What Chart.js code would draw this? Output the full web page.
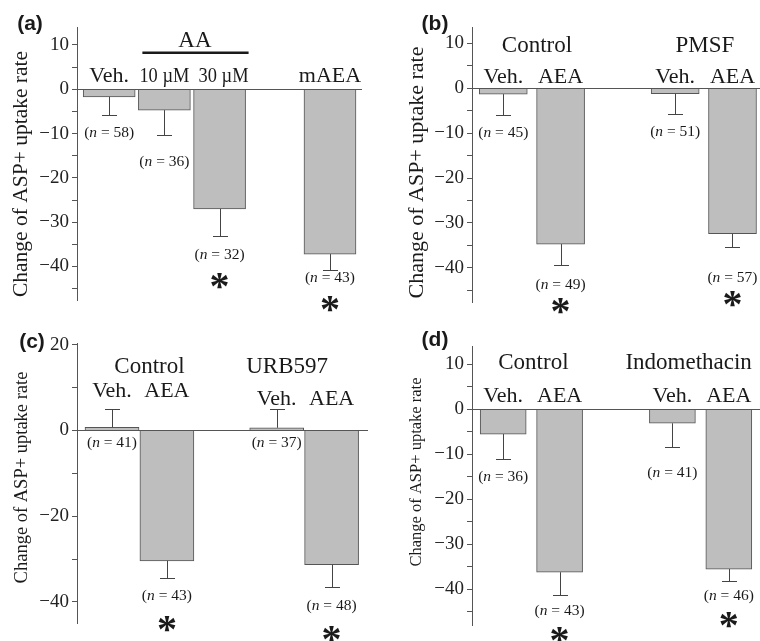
<!DOCTYPE html>
<html>
<head>
<meta charset="utf-8">
<script src="https://cdn.jsdelivr.net/npm/chart.js@4"></script>
<style>
  body { margin: 0; background: #fff; width: 760px; height: 641px; position: relative; overflow: hidden; }
  canvas { position: absolute; }
</style>
</head>
<body>
<canvas id="chartA" width="380" height="330" style="left:0;top:0"></canvas>
<canvas id="chartB" width="380" height="330" style="left:380px;top:0"></canvas>
<canvas id="chartC" width="380" height="331" style="left:0;top:310px"></canvas>
<canvas id="chartD" width="380" height="331" style="left:380px;top:310px"></canvas>
<script>
// (a) AA / mAEA
const aLabels = ['Veh.', '10 µM', '30 µM', '', 'mAEA'];
const aMean = [-1.7, -4.7, -27.0, null, -37.2];
const aSem = [4.1, 5.6, 6.1, null, 3.6];
const aN = [58, 36, 32, null, 43];
const aStar = [false, false, true, false, true];

// (b) Control / PMSF
const bLabels = ['Veh.', 'AEA', '', 'Veh.', 'AEA'];
const bMean = [-1.3, -34.7, null, -1.2, -32.4];
const bSem = [4.7, 4.7, null, 4.6, 3.0];
const bN = [45, 49, null, 51, 57];
const bStar = [false, true, false, false, true];

// (c) Control / URB597
const cLabels = ['Veh.', 'AEA', '', 'Veh.', 'AEA'];
const cMean = [0.7, -30.4, null, 0.6, -31.3];
const cSem = [4.3, 3.9, null, 4.5, 5.2];
const cN = [41, 43, null, 37, 48];
const cStar = [false, true, false, false, true];

// (d) Control / Indomethacin
const dLabels = ['Veh.', 'AEA', '', 'Veh.', 'AEA'];
const dMean = [-5.5, -36.2, null, -3.1, -35.5];
const dSem = [5.5, 5.1, null, 5.2, 2.6];
const dN = [36, 43, null, 41, 46];
const dStar = [false, true, false, false, true];

const yTitle = 'Change of ASP+ uptake rate';

const SERIF = '"Liberation Serif", "Times New Roman", serif';
const SANS = '"Liberation Sans", Arial, sans-serif';
const INK = '#1a1a1a';
const AXIS = '#555';
const BAR_FILL = 'rgb(190,190,190)';
const BAR_EDGE = 'rgb(85,85,85)';

const panels = [
  { id: 'chartA', letter: '(a)', letterAt: [30, 24], title: { x: 21, y: 174, size: 21.5 },
    labels: aLabels, mean: aMean, sem: aSem, n: aN, star: aStar,
    xr: [-0.583, 4.58], yr: [-47.56, 14.06], step: 5, every: 10,
    bar: 52, axisW: 77, pad: { top: 27, bottom: 30, right: 18 },
    catY: 81.5, catFit: 50, catDx: [0, 0, 4, 0, 0],
    groups: [{ text: 'AA', from: 1, to: 2, y: 47, line: 52.7, dx: 3 }],
    nOff: [18, 27, 19, null, 8], starOff: 26 },
  { id: 'chartB', letter: '(b)', letterAt: [55, 24], title: { x: 37.5, y: 172.5, size: 22 },
    labels: bLabels, mean: bMean, sem: bSem, n: bN, star: bStar,
    xr: [-0.546, 4.48], yr: [-47.6, 13.65], step: 5, every: 10,
    bar: 48, axisW: 92, pad: { top: 27, bottom: 28, right: 0 },
    catY: 83.3,
    groups: [{ text: 'Control', from: 0, to: 1, y: 51.7, dx: 5 },
             { text: 'PMSF', from: 3, to: 4, y: 51.7, dx: 1 }],
    nOff: [18, 20, null, 18, 31], starOff: 21 },
  { id: 'chartC', letter: '(c)', letterAt: [32, 32], title: { x: 22, y: 167.5, size: 18.5 },
    labels: cLabels, mean: cMean, sem: cSem, n: cN, star: cStar,
    xr: [-0.6375, 4.663], yr: [-44.9, 20.37], step: 10, every: 20,
    bar: 54, axisW: 77, pad: { top: 33, bottom: 18, right: 12 },
    catY: 87.3,
    groups: [{ text: 'Control', from: 0, to: 1, y: 63.3, dx: 10, catY: 87.3 },
             { text: 'URB597', from: 3, to: 4, y: 63.3, dx: -17, catY: 95 }],
    nOff: [12.6, 18, null, 12.6, 18.7], starOff: 28 },
  { id: 'chartD', letter: '(d)', letterAt: [55, 30], title: { x: 36.5, y: 162, size: 16.5 },
    labels: dLabels, mean: dMean, sem: dSem, n: dN, star: dStar,
    xr: [-0.553, 4.553], yr: [-47.93, 14.07], step: 5, every: 10,
    bar: 46, axisW: 92, pad: { top: 36, bottom: 16, right: 0 },
    catY: 91.7,
    groups: [{ text: 'Control', from: 0, to: 1, y: 59.3, dx: 2 },
             { text: 'Indomethacin', from: 3, to: 4, y: 59.3, dx: -12 }],
    nOff: [17.7, 16, null, 26.6, 15], starOff: 24 }
];

function drawN(ctx, n, x, y) {
  const size = 15.5;
  const plain = size + 'px ' + SERIF;
  const ital = 'italic ' + size + 'px ' + SERIF;
  const a = '(', b = 'n', c = ' = ' + n + ')';
  ctx.font = plain;
  const wa = ctx.measureText(a).width, wc = ctx.measureText(c).width;
  ctx.font = ital;
  const wb = ctx.measureText(b).width;
  let x0 = x - (wa + wb + wc) / 2;
  ctx.textAlign = 'left';
  ctx.textBaseline = 'middle';
  ctx.font = plain; ctx.fillText(a, x0, y);
  ctx.font = ital; ctx.fillText(b, x0 + wa, y);
  ctx.font = plain; ctx.fillText(c, x0 + wa + wb, y);
}

function drawStar(ctx, x, y) {
  ctx.font = 'bold 40px ' + SERIF;
  ctx.textAlign = 'left';
  ctx.textBaseline = 'alphabetic';
  const m = ctx.measureText('*');
  const x0 = x - (m.actualBoundingBoxRight - m.actualBoundingBoxLeft) / 2;
  const y0 = y - (m.actualBoundingBoxDescent - m.actualBoundingBoxAscent) / 2;
  ctx.fillText('*', x0, y0);
}

function decor(p) {
  return {
    id: 'decor',
    afterDatasetsDraw(chart) {
      const ctx = chart.ctx, xs = chart.scales.x, ys = chart.scales.y, area = chart.chartArea;
      ctx.save();
      // zero line
      const y0 = Math.round(ys.getPixelForValue(0)) + 0.5;
      ctx.strokeStyle = AXIS;
      ctx.lineWidth = 1;
      ctx.beginPath();
      ctx.moveTo(area.left, y0);
      ctx.lineTo(area.right, y0);
      ctx.stroke();
      // error bars, away from zero
      ctx.strokeStyle = '#444';
      p.mean.forEach((m, i) => {
        if (m === null) return;
        const x = Math.round(xs.getPixelForValue(i)) + 0.5;
        const end = m + (m < 0 ? -p.sem[i] : p.sem[i]);
        const yb = ys.getPixelForValue(m);
        const ye = Math.round(ys.getPixelForValue(end)) + 0.5;
        ctx.beginPath();
        ctx.moveTo(x, yb);
        ctx.lineTo(x, ye);
        ctx.moveTo(x - 7.5, ye);
        ctx.lineTo(x + 7.5, ye);
        ctx.stroke();
      });
      ctx.restore();
    },
    afterDraw(chart) {
      const ctx = chart.ctx, xs = chart.scales.x, ys = chart.scales.y;
      ctx.save();
      ctx.fillStyle = INK;
      // panel letter
      ctx.font = 'bold 21px ' + SANS;
      ctx.textAlign = 'center';
      ctx.textBaseline = 'middle';
      ctx.fillText(p.letter, p.letterAt[0], p.letterAt[1]);
      // axis title
      ctx.save();
      ctx.translate(p.title.x, p.title.y);
      ctx.rotate(-Math.PI / 2);
      ctx.font = p.title.size + 'px ' + SERIF;
      ctx.fillText(yTitle, 0, 0);
      ctx.restore();
      // group headers
      ctx.textBaseline = 'alphabetic';
      ctx.textAlign = 'center';
      p.groups.forEach(g => {
        const l = xs.getPixelForValue(g.from) - p.bar / 2;
        const r = xs.getPixelForValue(g.to) + p.bar / 2;
        ctx.font = '23px ' + SERIF;
        ctx.fillText(g.text, (l + r) / 2 + g.dx, g.y);
        if (g.line) {
          ctx.strokeStyle = INK;
          ctx.lineWidth = 2.5;
          ctx.beginPath();
          ctx.moveTo(l + 4, g.line);
          ctx.lineTo(r + 3, g.line);
          ctx.stroke();
        }
      });
      // category labels
      ctx.font = '22px ' + SERIF;
      p.labels.forEach((lab, i) => {
        if (!lab) return;
        const g = p.groups.find(gr => i >= gr.from && i <= gr.to && gr.catY);
        const y = g ? g.catY : p.catY;
        const x = xs.getPixelForValue(i) + (p.catDx ? p.catDx[i] : 0);
        if (p.catFit && lab.indexOf('µ') >= 0) ctx.fillText(lab, x, y, p.catFit);
        else ctx.fillText(lab, x, y);
      });
      // n labels and significance marks
      p.mean.forEach((m, i) => {
        if (m === null) return;
        const x = xs.getPixelForValue(i);
        const end = m + (m < 0 ? -p.sem[i] : p.sem[i]);
        const anchor = Math.max(ys.getPixelForValue(0), ys.getPixelForValue(end), ys.getPixelForValue(m));
        const ny = anchor + p.nOff[i];
        drawN(ctx, p.n[i], x, ny);
        if (p.star[i]) drawStar(ctx, x, ny + p.starOff);
      });
      ctx.restore();
    }
  };
}

function makeChart(p) {
  const ctx = document.getElementById(p.id).getContext('2d');
  const points = p.labels.map((lab, i) => ({ x: i, y: p.mean[i] })).filter(d => d.y !== null);
  return new Chart(ctx, {
    type: 'bar',
    data: {
      datasets: [{
        data: points,
        backgroundColor: BAR_FILL,
        borderColor: BAR_EDGE,
        borderWidth: 1,
        barThickness: p.bar
      }]
    },
    options: {
      responsive: false,
      animation: false,
      devicePixelRatio: 1,
      layout: { padding: { left: 0, top: p.pad.top, bottom: p.pad.bottom, right: p.pad.right } },
      plugins: { legend: { display: false }, tooltip: { enabled: false } },
      scales: {
        x: { type: 'linear', display: false, offset: false, min: p.xr[0], max: p.xr[1] },
        y: {
          min: p.yr[0], max: p.yr[1],
          afterFit: s => { s.width = p.axisW; },
          border: { display: true, color: AXIS, width: 1 },
          grid: { drawOnChartArea: false, drawTicks: true, tickLength: 5, color: AXIS },
          ticks: {
            stepSize: p.step, includeBounds: false, autoSkip: false, maxTicksLimit: 100,
            padding: 3, color: '#222',
            font: { family: SERIF, size: 19 },
            callback: v => (v % p.every === 0 ? (v < 0 ? '\u2212' + Math.abs(v) : String(v)) : '')
          }
        }
      }
    },
    plugins: [decor(p)]
  });
}

panels.forEach(makeChart);
</script>
</body>
</html>
